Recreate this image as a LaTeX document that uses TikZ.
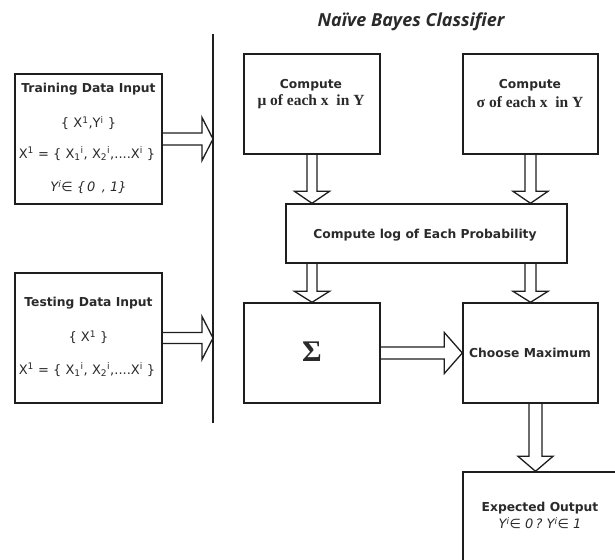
\documentclass[tikz,border=0pt]{standalone}
\usepackage{fontspec}
\setmainfont{Liberation Serif}
\newfontfamily\lblfont{DejaVu Sans}
\newfontfamily\ttlfont{Open Sans}
\usetikzlibrary{calc}

\definecolor{linecol}{HTML}{1E1E1E}
\definecolor{txtcol}{HTML}{2A2A2A}

\tikzset{
  box/.style={draw=linecol, line width=1.4pt, inner sep=0pt},
  fat/.style={draw=linecol, line width=1.3pt, line join=miter},
  hdr/.style={inner sep=0pt, text=txtcol, font=\lblfont\bfseries\fontsize{12.3}{14}\selectfont},
  frm/.style={inner sep=0pt, text=txtcol, font=\lblfont\fontsize{13}{15}\selectfont},
  frmit/.style={inner sep=0pt, text=txtcol, font=\lblfont\itshape\fontsize{13}{15}\selectfont},
  serifb/.style={inner sep=0pt, text=txtcol, font=\bfseries\fontsize{15.5}{17}\selectfont},
  ttl/.style={inner sep=0pt, text=txtcol, font=\ttlfont\bfseries\itshape\fontsize{18}{20}\selectfont},
}

% hollow block arrow: start, end, shaft half-width, head half-width, head length
\newcommand\fatarrow[5]{%
  \coordinate (fa-s) at (#1);
  \coordinate (fa-e) at (#2);
  \coordinate (fa-b) at ($(fa-e)!#5!(fa-s)$);
  \draw[fat] ($(fa-s)!#3!90:(fa-e)$) -- ($(fa-b)!#3!-90:(fa-s)$)
    -- ($(fa-b)!#4!-90:(fa-s)$) -- (fa-e) -- ($(fa-b)!#4!90:(fa-s)$)
    -- ($(fa-b)!#3!90:(fa-s)$) -- ($(fa-s)!#3!-90:(fa-e)$);
}

\begin{document}
\begin{tikzpicture}[x=1pt, y=-1pt]
\useasboundingbox[fill=white] (0,0) rectangle (615,559);

% title
\node[ttl] (title) at (411,22) {Naïve Bayes Classifier};

% separator between inputs and classifier
\coordinate (vtop) at (213,34);
\coordinate (vbot) at (213,423);
\draw[draw=linecol, line width=1.5pt] (vtop) -- (vbot);

% input boxes
\node[box, minimum width=147pt, minimum height=130pt] (train) at (88.5,139) {};
\node[hdr] (trainhdr) at (88.5,89) {Training Data Input};
\node[frm] (trainset) at (88.5,123) {\{ X\textsuperscript{1},Y\textsuperscript{i} \}};
\node[frm] (trainx) at (87,154) {X\textsuperscript{1} = \{ X\textsubscript{1}\textsuperscript{i}, X\textsubscript{2}\textsuperscript{i},....X\textsuperscript{i} \}};
\node[frmit] (trainy) at (88.5,187) {Y\textsuperscript{i}∈ \{\,0\,\ ,\ 1\}};

\node[box, minimum width=147pt, minimum height=130pt] (test) at (88.5,338) {};
\node[hdr] (testhdr) at (88.5,303) {Testing Data Input};
\node[frm] (testset) at (88.5,337) {\{ X\textsuperscript{1} \}};
\node[frm] (testx) at (87,370) {X\textsuperscript{1} = \{ X\textsubscript{1}\textsuperscript{i}, X\textsubscript{2}\textsuperscript{i},....X\textsuperscript{i} \}};

% classifier boxes
\node[box, minimum width=136pt, minimum height=100pt] (mu) at (312,104) {};
\node[hdr] (muhdr) at (311,85) {Compute};
\node[serifb] (mutxt) at (311,102) {μ of each x\ \ in Y};

\node[box, minimum width=135pt, minimum height=100pt] (sd) at (530.5,104) {};
\node[hdr] (sdhdr) at (530,85) {Compute};
\node[serifb] (sdtxt) at (530,102) {σ of each x\ \ in Y};

\node[box, minimum width=281pt, minimum height=59pt] (logp) at (426.5,233.5) {};
\node[hdr] (logtxt) at (425,235) {Compute log of Each Probability};

\node[box, minimum width=136pt, minimum height=100pt] (sum) at (312,353) {};
\node[inner sep=0pt, text=txtcol, font=\bfseries\fontsize{30}{32}\selectfont] (sumtxt) at (312,352) {Σ};

\node[box, minimum width=135pt, minimum height=100pt] (maxc) at (530.5,353) {};
\node[hdr] (maxtxt) at (530,353) {Choose Maximum};

% output box runs past the page edge
\begin{scope}
\clip (0,0) rectangle (615,559);
\node[box, minimum width=170pt, minimum height=120pt] (out) at (548,532) {};
\end{scope}
\node[hdr] (outhdr) at (540,508) {Expected Output};
\node[frmit] (outtxt) at (540,523) {Y\textsuperscript{i}∈ 0\,?\ Y\textsuperscript{i}∈ 1};

% block arrows
\coordinate (dn) at ($(maxc.south)+(5,0)$);
\fatarrow{train.east}{train.east -| vtop}{6pt}{21.5pt}{11pt}
\fatarrow{test.east}{test.east -| vtop}{5.5pt}{21.5pt}{11pt}
\fatarrow{mu.south}{mu.south |- logp.north}{5pt}{17.5pt}{12pt}
\fatarrow{sd.south}{sd.south |- logp.north}{5.5pt}{17.5pt}{12pt}
\fatarrow{logp.south -| sum.north}{sum.north}{5pt}{17.5pt}{11pt}
\fatarrow{logp.south -| maxc.north}{maxc.north}{5.5pt}{17.5pt}{11pt}
\fatarrow{sum.east}{maxc.west}{6pt}{20.5pt}{18pt}
\fatarrow{dn}{dn |- out.north}{6.5pt}{17.5pt}{15pt}
\end{tikzpicture}
\end{document}
